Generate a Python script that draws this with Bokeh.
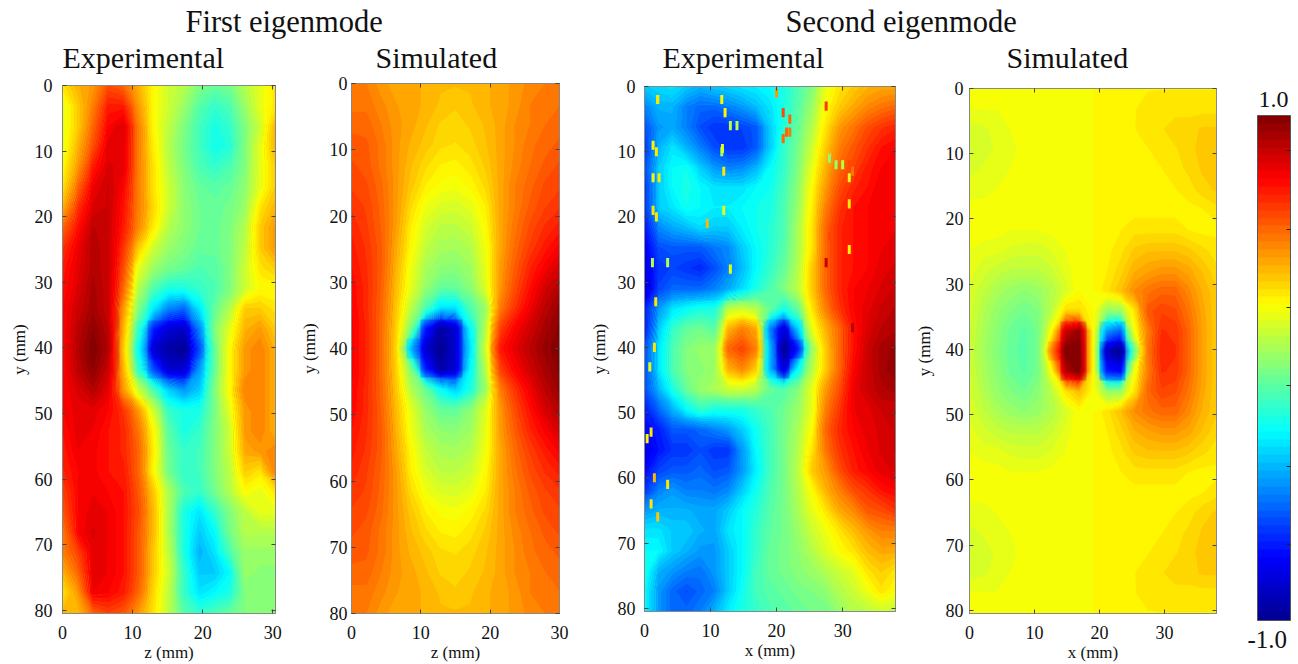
from bokeh.plotting import figure
from bokeh.layouts import row, column
from bokeh.embed import file_html
from bokeh.resources import INLINE
from bokeh.models import (Label, LinearAxis, LinearColorMapper, ColorBar, FixedTicker,
                          Range1d, ColumnDataSource)
from bokeh.core.validation import silence
from bokeh.core.validation.warnings import MISSING_RENDERERS
import numpy as np

silence(MISSING_RENDERERS, True)

TITLES = ["First eigenmode", "Second eigenmode"]
SUBTITLES = ["Experimental", "Simulated", "Experimental", "Simulated"]
XLABELS = ["z (mm)", "z (mm)", "x (mm)", "x (mm)"]
YLABEL = "y (mm)"
XTICKS = [0, 10, 20, 30]
YTICKS = [0, 10, 20, 30, 40, 50, 60, 70, 80]
BAR_LABELS = ["1.0", "-1.0"]
BAR_TICKS = [0.86, 0.55, 0.24, -0.07, -0.39, -0.70]

# field values in hundredths, rows from y = 0 downwards
first_exp = [
 [30,40,45,60,55,40,25,15,10,0,-5,-2,10,20,30],
 [20,35,50,70,70,45,25,15,5,-8,-15,-10,5,20,30],
 [20,35,55,75,82,50,25,12,0,-12,-20,-15,0,15,40],
 [20,40,60,80,80,50,28,10,-2,-12,-22,-18,0,20,40],
 [25,45,70,82,80,50,30,12,0,-10,-15,-10,0,20,35],
 [30,55,78,85,75,50,30,15,2,-5,-8,-5,3,20,35],
 [40,65,82,85,72,50,32,15,3,-3,-5,-2,5,30,40],
 [55,72,88,85,70,48,28,10,3,-3,-5,0,10,35,45],
 [65,78,90,85,65,35,15,5,0,-5,-5,0,12,35,45],
 [70,80,90,85,60,20,5,-2,-5,-10,-8,0,15,30,35],
 [72,82,92,85,55,10,-10,-20,-20,-15,-10,0,15,25,25],
 [75,85,93,85,45,0,-30,-50,-55,-30,-5,10,35,35,30],
 [75,88,97,88,40,-15,-70,-85,-88,-50,0,20,40,45,35],
 [75,90,100,90,35,-25,-85,-95,-100,-60,-5,25,45,50,40],
 [75,88,97,85,40,-15,-60,-85,-85,-45,-5,25,45,50,40],
 [75,82,90,80,45,15,-10,-35,-45,-35,0,25,50,50,40],
 [75,80,80,75,65,45,15,-15,-20,-20,-2,20,45,50,40],
 [72,80,78,72,68,52,25,-8,-20,-15,0,15,45,50,40],
 [70,78,76,72,68,55,28,-5,-15,-12,0,15,42,45,50],
 [68,75,76,72,70,55,25,-3,-15,-12,0,12,35,30,50],
 [62,75,78,75,72,58,35,8,-10,-15,-3,10,25,20,30],
 [58,75,80,78,72,60,38,8,-20,-30,-15,0,12,20,20],
 [50,75,82,78,72,58,38,8,-20,-35,-25,-2,10,10,10],
 [50,62,80,78,72,58,35,12,-20,-40,-30,-10,5,5,5],
 [40,55,80,78,72,58,35,15,-15,-35,-35,-25,5,2,2],
 [30,45,78,75,70,55,32,12,-15,-30,-25,-20,0,2,2],
 [40,38,55,62,58,45,30,12,-8,-15,-10,-5,0,2,2],
]

first_sim = [
 [50,50,45,42,42,40,38,38,38,40,42,45,48,50,50],
 [52,52,48,44,42,40,37,35,37,40,42,45,50,52,53],
 [55,55,50,45,42,38,34,33,35,38,42,47,50,53,55],
 [58,57,52,45,40,36,32,31,33,37,42,47,52,55,57],
 [60,58,52,45,38,32,28,27,30,35,42,48,53,57,60],
 [62,60,54,45,36,28,24,23,26,32,42,50,55,60,62],
 [65,62,55,45,32,22,18,17,20,28,42,50,57,62,65],
 [68,63,56,44,28,17,12,12,15,25,42,52,60,66,70],
 [70,65,57,42,26,13,8,7,10,22,42,54,63,70,76],
 [72,66,57,40,22,8,3,2,6,20,44,57,68,76,83],
 [74,67,56,38,20,4,-5,-5,2,18,45,60,72,83,90],
 [75,67,55,36,12,-10,-30,-30,-10,5,50,65,77,88,95],
 [76,68,54,34,0,-70,-95,-85,-25,10,62,75,84,92,98],
 [76,68,54,33,-40,-85,-100,-85,-30,15,70,80,88,95,100],
 [76,68,54,34,0,-70,-95,-85,-25,10,62,75,84,92,98],
 [75,67,55,36,10,-5,-25,-35,-20,5,50,65,77,88,95],
 [74,67,56,38,20,4,-5,-6,2,18,45,60,72,83,90],
 [72,66,57,40,22,8,3,2,6,20,44,57,68,76,83],
 [70,65,57,42,26,13,8,7,10,22,42,54,63,70,76],
 [68,63,56,44,28,17,12,12,15,25,42,52,60,66,70],
 [65,62,55,45,32,22,18,17,20,28,42,50,57,62,65],
 [62,60,54,45,36,28,24,23,26,32,42,50,55,60,62],
 [60,58,52,45,38,32,28,27,30,35,42,48,53,57,60],
 [58,57,52,45,40,36,32,31,33,37,42,47,52,55,57],
 [55,55,50,45,42,38,34,33,35,38,42,47,50,53,55],
 [52,52,48,44,42,40,37,35,37,40,42,45,50,52,53],
 [50,50,45,42,42,40,38,38,38,40,42,45,48,50,50],
]

second_exp = [
 [-35,-32,-30,-35,-40,-35,-33,-30,-28,-25,-20,-10,0,20,30,35,40,42,42],
 [-50,-40,-40,-50,-55,-55,-50,-45,-38,-30,-20,-8,5,25,35,42,48,52,55],
 [-60,-45,-42,-50,-60,-65,-65,-62,-58,-35,-18,-5,10,30,45,52,60,65,68],
 [-65,-40,-30,-40,-50,-60,-65,-65,-58,-35,-15,-2,15,35,50,58,65,72,75],
 [-60,-35,-25,-22,-35,-45,-50,-48,-40,-25,-15,0,20,40,55,62,70,75,78],
 [-65,-35,-25,-20,-25,-30,-30,-30,-25,-22,-12,3,25,45,60,68,72,78,78],
 [-65,-35,-30,-22,-25,-28,-28,-25,-22,-20,-10,5,28,50,65,72,75,78,78],
 [-72,-48,-42,-38,-32,-35,-35,-28,-22,-18,-10,8,30,55,68,72,75,78,78],
 [-78,-60,-58,-58,-58,-52,-48,-35,-25,-18,-8,8,30,55,68,72,75,78,80],
 [-82,-65,-62,-65,-68,-60,-50,-38,-25,-15,-5,10,35,55,68,72,75,80,82],
 [-85,-62,-55,-55,-55,-50,-42,-32,-20,-10,0,12,35,55,68,75,78,82,85],
 [-70,-45,-30,-25,-20,-20,12,15,10,-5,-20,-5,30,50,65,75,80,85,88],
 [-70,-35,-15,-5,-3,-8,40,50,42,-50,-85,-35,20,40,55,72,82,88,90],
 [-60,-30,-10,0,5,5,55,62,50,-40,-100,-70,5,35,55,72,85,92,95],
 [-60,-30,-10,0,2,5,40,48,35,-40,-85,-25,10,35,55,75,85,92,97],
 [-60,-40,-20,-5,5,8,15,15,10,-5,-8,0,20,45,60,78,85,90,92],
 [-70,-55,-40,-25,-15,-20,-20,-20,-15,-10,-3,5,20,50,65,78,80,85,85],
 [-75,-70,-58,-58,-55,-50,-45,-35,-22,-12,-2,8,25,55,68,75,80,82,85],
 [-80,-72,-65,-65,-60,-65,-65,-45,-25,-12,-2,10,30,52,65,72,78,82,85],
 [-75,-62,-58,-58,-55,-60,-58,-45,-28,-12,-2,12,35,45,60,70,75,80,82],
 [-65,-50,-45,-50,-50,-52,-48,-35,-22,-10,-2,10,25,40,50,60,65,72,75],
 [-45,-40,-40,-40,-42,-42,-35,-25,-18,-8,-2,8,20,30,42,48,58,60,65],
 [-30,-30,-35,-35,-40,-42,-30,-25,-15,-7,-2,5,15,22,30,38,45,50,50],
 [-25,-25,-35,-40,-45,-45,-35,-25,-15,-5,-2,3,10,18,25,30,38,42,42],
 [-20,-40,-45,-50,-52,-45,-35,-25,-12,-5,-2,2,5,10,15,20,30,35,30],
 [-25,-45,-55,-60,-55,-50,-35,-22,-12,-8,-5,-2,0,3,10,15,22,30,25],
 [-25,-45,-55,-55,-50,-40,-28,-20,-15,-10,-8,-5,-3,-2,5,10,12,15,12],
]

second_sim = [
 [24,24,24,24,25,25,25,25,25,25,27,27,28,28,28,28,28,28,28],
 [22,22,22,23,24,25,25,25,25,25,27,28,28,29,30,30,30,30,30],
 [17,18,20,22,24,25,25,25,25,25,27,27,28,30,31,33,33,35,35],
 [17,18,19,21,23,25,25,25,25,25,27,27,27,28,30,31,33,36,37],
 [18,19,20,22,24,25,25,25,25,25,27,27,27,27,28,30,32,35,37],
 [20,20,22,24,25,25,25,25,25,25,27,27,27,27,27,28,30,33,35],
 [24,24,24,25,25,25,25,25,25,25,27,27,27,27,27,27,27,28,30],
 [25,24,23,22,22,22,23,24,25,25,27,28,30,30,30,30,28,27,27],
 [22,20,20,18,17,17,19,22,25,25,27,30,35,37,37,37,35,32,30],
 [20,17,14,12,12,12,15,20,25,25,28,33,40,43,45,45,42,37,32],
 [18,13,8,5,3,5,10,17,25,25,30,37,47,52,55,55,48,40,35],
 [17,10,4,0,-3,0,12,32,32,25,5,5,30,58,62,60,52,42,35],
 [16,8,2,-4,-7,-2,25,85,95,25,-45,-55,22,50,66,65,55,43,35],
 [15,7,1,-5,-8,-2,50,100,100,25,-90,-100,-5,52,68,66,55,43,35],
 [16,8,2,-4,-7,-2,25,90,100,25,-70,-75,22,50,66,65,55,43,35],
 [17,10,4,0,-3,2,12,30,38,25,5,5,30,55,62,60,52,42,35],
 [18,13,8,5,3,5,10,17,25,25,30,37,47,52,55,55,48,40,35],
 [20,17,14,12,12,12,15,20,25,25,28,33,40,43,45,45,42,37,32],
 [22,20,20,18,17,17,19,22,25,25,27,30,35,37,37,37,35,32,30],
 [25,24,23,22,22,22,23,24,25,25,27,28,30,30,30,30,28,27,27],
 [24,24,24,25,25,25,25,25,25,25,27,27,27,27,27,27,27,28,30],
 [20,20,22,24,25,25,25,25,25,25,27,27,27,27,27,28,30,33,35],
 [18,19,20,22,24,25,25,25,25,25,27,27,27,27,28,30,32,35,37],
 [17,18,19,21,23,25,25,25,25,25,27,27,27,28,30,31,33,36,37],
 [17,18,20,22,24,25,25,25,25,25,27,27,28,30,31,33,33,35,35],
 [22,22,22,23,24,25,25,25,25,25,27,28,28,29,30,30,30,30,30],
 [24,24,24,24,25,25,25,25,25,25,27,27,28,28,28,28,28,28,28],
]

# isolated pixels on the second experimental map
speck_x = [2,11.7,12.2,13,14,2,1.3,1.8,11.7,1.3,2.2,1.3,12,1.8,9.5,13,11.8,3.5,1.2,1.7,
           28,29,30,31,31.5,31,31,21,22,21.5,20,27.5,1.5,0.8,0.4,1,1.5,3.5,1,2,
           31,31.5,28,27.5,12,21,22]
speck_y = [2,2,4,6,6,2,9,10,10,14,14,19,19,20,21,28,9.5,27,27,33,
           11,12,12,12,13,14,18,4,5,7,1,3,40,43,54,53,60,61,64,66,
           25,37,23,27,13,8,7]
speck_v = [25,25,25,10,10,30,25,30,5,25,30,30,20,30,40,20,20,10,10,30,
           0,5,10,60,50,20,30,60,55,55,45,65,30,20,25,30,40,30,30,35,
           25,90,60,85,30,55,50]

JET_POS = [0, .125, .375, .625, .875, 1]
JET_R = [0, 0, 0, 255, 255, 128]
JET_G = [0, 0, 255, 255, 0, 0]
JET_B = [143, 255, 255, 0, 0, 0]
_t = (np.arange(64) + 0.5) / 64
JET = ["#%02x%02x%02x" % (int(r), int(g), int(b)) for r, g, b in zip(
    np.interp(_t, JET_POS, JET_R), np.interp(_t, JET_POS, JET_G), np.interp(_t, JET_POS, JET_B))]
mapper = LinearColorMapper(palette=JET, low=-1, high=1)
LEVELS = np.linspace(-1.001, 1.001, 65)

SERIF = "Liberation Serif"
INK = "#111111"
TOP = 74
BOTTOM = 664
ROW_H = BOTTOM - TOP
LIFT = 9   # a Label's baseline lands this far below the requested height

def side_axis(p, ticks, place):
    ax = LinearAxis(ticker=FixedTicker(ticks=ticks), major_label_overrides={t: "" for t in ticks},
                    major_tick_in=4, major_tick_out=0, minor_tick_line_color=None,
                    axis_line_color="#888888", major_tick_line_color="#444444",
                    major_label_text_font_size="8px", major_label_standoff=0)
    p.add_layout(ax, place)

def panel(field, left, right, fl, fr, ftop, fbot, xmax, ymax, xlab, tick_off, label_off):
    p = figure(width=right - left, height=ROW_H, toolbar_location=None, output_backend="svg",
               x_range=Range1d(0, xmax), y_range=Range1d(ymax, 0), frame_align=False,
               min_border_left=fl - left, min_border_right=right - fr,
               min_border_top=ftop - TOP, min_border_bottom=BOTTOM - fbot,
               background_fill_color=None, border_fill_color=None)
    p.grid.visible = False
    arr = np.array(field, dtype=float) / 100.0
    ny, nx = arr.shape
    gx = np.linspace(0, xmax, nx)
    gy = np.linspace(0, ymax, ny)
    p.image(image=[arr], x=0, y=0, dw=xmax, dh=ymax, color_mapper=mapper)
    p.contour(gx, gy, arr, LEVELS, fill_color=JET, line_color=None)
    xa, ya = p.xaxis[0], p.yaxis[0]
    xa.ticker = FixedTicker(ticks=XTICKS); ya.ticker = FixedTicker(ticks=YTICKS)
    xa.axis_label = xlab; ya.axis_label = YLABEL
    for a in (xa, ya):
        a.major_label_text_font = SERIF; a.major_label_text_font_size = "18px"
        a.major_label_text_color = INK
        a.axis_label_text_font = SERIF; a.axis_label_text_font_size = "17px"
        a.axis_label_text_font_style = "normal"; a.axis_label_text_color = INK
        a.major_tick_in = 4; a.major_tick_out = 0; a.minor_tick_line_color = None
        a.axis_line_color = "#888888"; a.major_tick_line_color = "#444444"
    xa.major_label_standoff = 12; xa.axis_label_standoff = 1
    ya.major_label_standoff = tick_off; ya.axis_label_standoff = label_off
    side_axis(p, XTICKS, "above"); side_axis(p, YTICKS, "right")
    p.outline_line_color = "#888888"
    return p

p1 = panel(first_exp, 0, 295, 62, 275, 85, 617, 30.4, 80.5, XLABELS[0], 10, 3)
p2 = panel(first_sim, 295, 585, 351, 559, 83, 618, 30, 80, XLABELS[1], 4, 8)
p3 = panel(second_exp, 585, 910, 644, 895, 86, 611, 38, 80.5, XLABELS[2], 9, 6)
p4 = panel(second_sim, 910, 1235, 969, 1216, 88, 613, 38, 80.5, XLABELS[3], 6, 9)

speck = ColumnDataSource(dict(x=speck_x, y=speck_y, v=[v / 100.0 for v in speck_v]))
p3.rect(x="x", y="y", source=speck, width=0.45, height=1.4, line_color=None,
        fill_color={"field": "v", "transform": mapper})

strip = figure(width=1298, height=TOP, toolbar_location=None, output_backend="svg",
               x_range=Range1d(0, 1), y_range=Range1d(0, 1), min_border=0,
               x_axis_type=None, y_axis_type=None, outline_line_color=None,
               background_fill_color=None, border_fill_color=None)
strip.grid.visible = False

def strip_text(txt, x, baseline, size):
    strip.add_layout(Label(x=x, y=TOP - baseline + 10, x_units="screen", y_units="screen", text=txt,
                           text_font=SERIF, text_font_size=size, text_color=INK,
                           text_baseline="alphabetic"))

for txt, x in zip(TITLES, [185, 785]):
    strip_text(txt, x, 31, "30.5px")
for txt, x in zip(SUBTITLES, [62, 375, 662, 1006]):
    strip_text(txt, x, 67, "30px")

cb = figure(width=63, height=ROW_H, toolbar_location=None, output_backend="svg",
            x_range=Range1d(0, 1), y_range=Range1d(0, 1), min_border=0, frame_align=False,
            x_axis_type=None, y_axis_type=None, outline_line_color=None,
            background_fill_color=None, border_fill_color=None)
cb.grid.visible = False
bar = ColorBar(color_mapper=mapper, ticker=FixedTicker(ticks=BAR_TICKS),
               major_label_overrides={t: "" for t in BAR_TICKS},
               location=(1257 - 1235, BOTTOM - 620), width=33, height=505, padding=0,
               margin=0, major_label_text_font_size="8px", major_tick_in=4,
               major_tick_line_color="#222222", bar_line_color="#555555",
               background_fill_color=None, border_line_color=None, label_standoff=0)
cb.add_layout(bar, "center")
cb.add_layout(Label(x=1258 - 1235, y=BOTTOM - 108 + LIFT, x_units="screen", y_units="screen",
                    text=BAR_LABELS[0], text_font=SERIF, text_font_size="24px",
                    text_baseline="alphabetic", text_color=INK))
cb.add_layout(Label(x=1247 - 1235, y=BOTTOM - 648 + LIFT, x_units="screen", y_units="screen",
                    text=BAR_LABELS[1], text_font=SERIF, text_font_size="25px",
                    text_baseline="alphabetic", text_color=INK))

layout = column(strip, row(p1, p2, p3, p4, cb, spacing=0), spacing=0)
open("out.html", "w").write(file_html(layout, INLINE))
